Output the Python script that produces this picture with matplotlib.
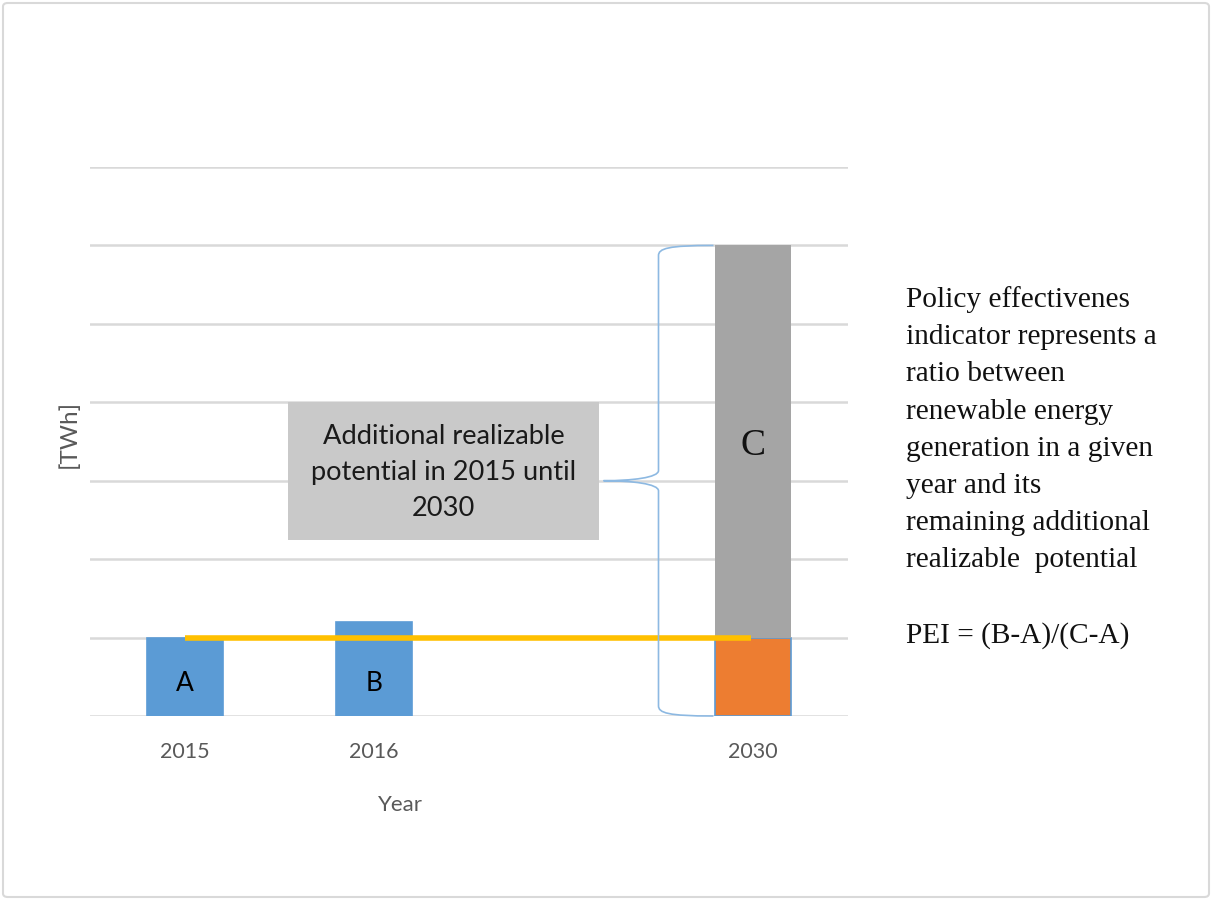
import numpy as np
import matplotlib.pyplot as plt
from matplotlib.path import Path
from matplotlib.patches import PathPatch, FancyBboxPatch, Rectangle

# categories on the x axis (empty slot keeps the gap before 2030)
years = ['2015', '2016', '', '2030']
generation = [1.0, 1.2, np.nan, 1.0]        # realised generation, TWh
potential = [0.0, 0.0, 0.0, 5.0]            # remaining realisable potential stacked on top
bar_labels = ['A', 'B', '', '']
baseline_level = 1.0                        # level of A carried forward
ymax = 7

blue = '#5B9BD5'
orange = '#ED7D31'
grey = '#A5A5A5'
yellow = '#FFC000'
grid_c = '#D9D9D9'
sans = ['Lato', 'DejaVu Sans']
serif = ['Liberation Serif', 'DejaVu Serif']

fig = plt.figure(figsize=(12.12, 9), dpi=100)
ax = fig.add_axes([90 / 1212, 1 - 716 / 900, (848 - 90) / 1212, (716 - 167) / 900])

x = np.arange(len(years))
colors = [blue, blue, blue, orange]
ax.bar(x, generation, width=0.4, color=colors, edgecolor=blue, linewidth=1.2, zorder=3)
ax.bar(x, potential, width=0.4, bottom=np.nan_to_num(generation), color=grey, zorder=3)

for xi, lab in zip(x, bar_labels):
    if lab:
        ax.text(xi, baseline_level * 0.42, lab, ha='center', va='center',
                fontsize=19, family=sans, color='black', zorder=5)
ax.text(x[3], generation[3] + potential[3] * 0.49, 'C', ha='center', va='center',
        fontsize=27, family=serif, color='#111111', zorder=5)

# A level carried over to 2030
ax.plot([x[0], x[3] - 0.01], [baseline_level, baseline_level], color=yellow,
        linewidth=4, solid_capstyle='butt', zorder=4)

# curly brace spanning the 2030 bar
top = generation[3] + potential[3]
mid = top / 2
bx, tip, arm, h = 2.5, 2.21, 2.79, 0.13
verts = [(arm, top), (bx + 0.05, top), (bx, top - h * 0.3), (bx, top - h),
         (bx, mid + h),
         (bx, mid + h * 0.3), (tip + 0.15, mid), (tip, mid),
         (tip + 0.15, mid), (bx, mid - h * 0.3), (bx, mid - h),
         (bx, h),
         (bx, h * 0.3), (bx + 0.05, 0), (arm, 0)]
codes = [Path.MOVETO, Path.CURVE4, Path.CURVE4, Path.CURVE4,
         Path.LINETO,
         Path.CURVE4, Path.CURVE4, Path.CURVE4,
         Path.CURVE4, Path.CURVE4, Path.CURVE4,
         Path.LINETO,
         Path.CURVE4, Path.CURVE4, Path.CURVE4]
ax.add_patch(PathPatch(Path(verts, codes), facecolor='none', edgecolor='#8DB9E2',
                       linewidth=1.2, zorder=4, clip_on=False))

# annotation box
ax.add_patch(Rectangle((0.545, 2.24), 2.186 - 0.545, 4.0 - 2.24, facecolor='#C9C9C9',
                       edgecolor='none', zorder=4))
ax.text((0.545 + 2.186) / 2, 3.1, 'Additional realizable\npotential in 2015 until\n2030',
        ha='center', va='center', fontsize=19.6, family=sans, color='#1a1a1a',
        linespacing=1.55, zorder=5)

ax.set_xlim(-0.5, 3.5)
ax.set_ylim(0, ymax)
ax.set_yticks(np.arange(0, ymax + 1))
ax.set_yticklabels([])
ax.tick_params(axis='y', length=0)
ax.set_xticks(x)
ax.set_xticklabels(years, fontsize=15.5, family=sans, color='#595959')
ax.tick_params(axis='x', length=0, pad=19)
ax.grid(axis='y', color=grid_c, linewidth=1.8, zorder=0)
ax.set_axisbelow(True)
for s in ax.spines.values():
    s.set_visible(False)
ax.set_xlabel('Year', fontsize=16, family=sans, color='#595959')
ax.xaxis.set_label_coords(0.41, -0.143)
ax.set_ylabel('[TWh]', fontsize=17.5, family=sans, color='#595959')
ax.yaxis.set_label_coords(-0.014, 0.514)

fig.text(906 / 1212, 1 - 286 / 900,
         'Policy effectivenes\nindicator represents a\nratio between\nrenewable energy\n'
         'generation in a given\nyear and its\nremaining additional\nrealizable  potential\n\n'
         'PEI = (B-A)/(C-A)',
         ha='left', va='top', fontsize=21.2, family=serif, color='#111111', linespacing=1.56)

fig.patches.append(FancyBboxPatch((3 / 1212, 3 / 900), 1206 / 1212, 894 / 900,
                                  boxstyle='round,pad=0,rounding_size=0.004',
                                  transform=fig.transFigure, facecolor='none',
                                  edgecolor=grid_c, linewidth=1.5))

fig.savefig('out.png', dpi=100)
